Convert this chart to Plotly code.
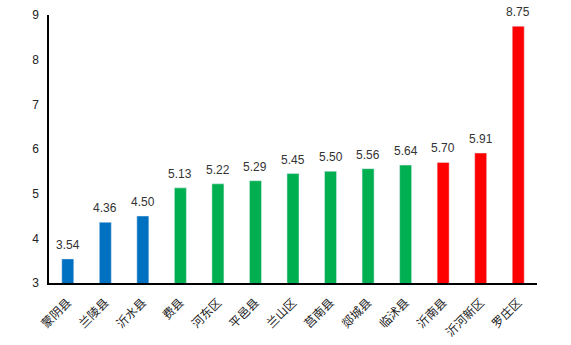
import plotly.graph_objects as go

categories = ["蒙阴县", "兰陵县", "沂水县", "费县", "河东区", "平邑县", "兰山区",
              "莒南县", "郯城县", "临沭县", "沂南县", "沂河新区", "罗庄区"]
values = [3.54, 4.36, 4.50, 5.13, 5.22, 5.29, 5.45, 5.50, 5.56, 5.64, 5.70, 5.91, 8.75]
groups = ["blue"] * 3 + ["green"] * 7 + ["red"] * 3
color_map = {"blue": "#0070C0", "green": "#00B050", "red": "#FF0000"}
y_ticks = [3, 4, 5, 6, 7, 8, 9]

fig = go.Figure(go.Bar(
    x=categories, y=values,
    marker_color=[color_map[g] for g in groups],
    width=0.32,
))

for c, v in zip(categories, values):
    fig.add_annotation(
        x=c, y=v, text=f"{v:.2f}", showarrow=False, yshift=14,
        font=dict(size=12, color="#333333", family="Liberation Sans, Arial"),
    )

fig.update_layout(
    width=571, height=345,
    margin=dict(l=49, r=34, t=15, b=62, autoexpand=False),
    plot_bgcolor="white", paper_bgcolor="white",
    showlegend=False,
    font=dict(family="Noto Sans CJK SC, sans-serif", size=12, color="#000000"),
)
fig.update_xaxes(
    tickangle=-45, showline=True, linecolor="black", linewidth=1.5,
    ticks="", showgrid=False, ticklabelstandoff=6, automargin=False,
    tickfont=dict(size=12, family="Noto Sans CJK SC", color="#222222"),
)
fig.update_yaxes(
    range=[3, 9], tickvals=y_ticks, showline=True, linecolor="black", linewidth=1.5,
    ticks="", showgrid=False, zeroline=False, ticklabelstandoff=6, automargin=False,
    tickfont=dict(size=12, family="Liberation Sans, Arial", color="#222222"),
)

fig.write_html("out.html")
